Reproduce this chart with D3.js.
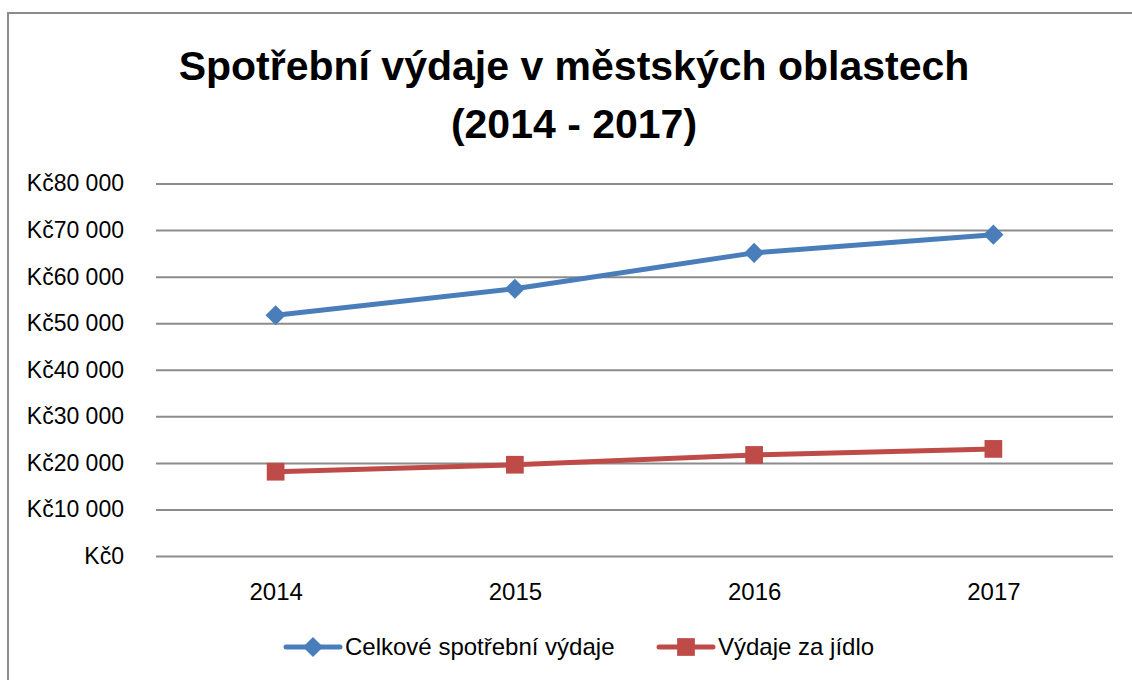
<!DOCTYPE html>
<html>
<head>
<meta charset="utf-8">
<script src="https://cdn.jsdelivr.net/npm/d3@7"></script>
<style>
  body { margin: 0; background: #fff; }
  svg { display: block; }
</style>
</head>
<body>
<svg id="chart"></svg>
<script>
// data
const years = ["2014", "2015", "2016", "2017"];
const totalSpend = [51700, 57400, 65100, 69000];
const foodSpend = [18100, 19600, 21700, 23000];
const seriesNames = ["Celkové spotřební výdaje", "Výdaje za jídlo"];
const yTicks = [0, 10000, 20000, 30000, 40000, 50000, 60000, 70000, 80000];
const titleLines = ["Spotřební výdaje v městských oblastech", "(2014 - 2017)"];

const width = 1132,
  height = 680;
const font = "'Liberation Sans', Arial, sans-serif";
const colors = ["#4a7ebb", "#be4b48"];

const svg = d3.select("#chart").attr("width", width).attr("height", height);

/* outer frame (only top + left are inside the picture) */
svg.append("rect")
  .attr("x", 8).attr("y", 13)
  .attr("width", 1200).attr("height", 800)
  .attr("fill", "none")
  .attr("stroke", "#8c8c8c")
  .attr("stroke-width", 2);

/* title */
svg.append("g")
  .selectAll("text")
  .data(titleLines)
  .enter()
  .append("text")
  .attr("x", 574)
  .attr("y", (d, i) => 80 + i * 58)
  .attr("text-anchor", "middle")
  .attr("font-family", font)
  .attr("font-weight", "bold")
  .attr("font-size", 41)
  .attr("fill", "#000")
  .text((d) => d);

/* scales */
const xScale = d3.scalePoint()
  .domain(years)
  .range([156, 1113])
  .padding(0.5);

const yScale = d3.scaleLinear()
  .domain([0, 80000])
  .range([556, 183.5]);

/* gridlines + y axis */
const fmt = (v) => "Kč" + (v === 0 ? "0" : d3.format(",")(v).replace(/,/g, " "));

const yAxis = d3.axisLeft(yScale)
  .tickValues(yTicks)
  .tickSize(-(1113 - 156))
  .tickPadding(32)
  .tickFormat(fmt);

const yG = svg.append("g")
  .attr("transform", "translate(156,0)")
  .call(yAxis);
yG.select(".domain").remove();
yG.selectAll(".tick line").attr("stroke", "#8c8c8c").attr("stroke-width", 2);
yG.selectAll(".tick text")
  .attr("font-family", font)
  .attr("font-size", 23)
  .attr("fill", "#000");

/* x axis */
const xAxis = d3.axisBottom(xScale).tickSize(0).tickPadding(27);
const xG = svg.append("g")
  .attr("transform", "translate(0,556)")
  .call(xAxis);
xG.select(".domain").remove();
xG.selectAll(".tick text")
  .attr("font-family", font)
  .attr("font-size", 24)
  .attr("fill", "#000");

/* lines */
const series = [totalSpend, foodSpend];
const line = d3.line()
  .x((d, i) => xScale(years[i]))
  .y((d) => yScale(d));

const diamond = d3.symbol().type(d3.symbolDiamond2).size(260);
const square = d3.symbol().type(d3.symbolSquare2).size(400);
const shapes = [diamond, square];

series.forEach((vals, s) => {
  svg.append("path")
    .datum(vals)
    .attr("d", line)
    .attr("fill", "none")
    .attr("stroke", colors[s])
    .attr("stroke-width", 5)
    .attr("stroke-linejoin", "round");

  svg.selectAll(".mk" + s)
    .data(vals)
    .enter()
    .append("path")
    .attr("class", "mk" + s)
    .attr("d", shapes[s])
    .attr("transform", (d, i) => `translate(${xScale(years[i])},${yScale(d)})`)
    .attr("fill", colors[s]);
});

/* legend */
const legendX = [286, 659];
const legend = svg.append("g").attr("transform", "translate(0,647)");
seriesNames.forEach((name, s) => {
  const g = legend.append("g").attr("transform", `translate(${legendX[s]},0)`);
  g.append("line")
    .attr("x1", 0).attr("x2", 54)
    .attr("stroke", colors[s])
    .attr("stroke-width", 5)
    .attr("stroke-linecap", "round");
  g.append("path")
    .attr("d", shapes[s])
    .attr("transform", "translate(27,0)")
    .attr("fill", colors[s]);
  g.append("text")
    .attr("x", 59)
    .attr("y", 8)
    .attr("font-family", font)
    .attr("font-size", 24)
    .attr("fill", "#000")
    .text(name);
});
</script>
</body>
</html>
